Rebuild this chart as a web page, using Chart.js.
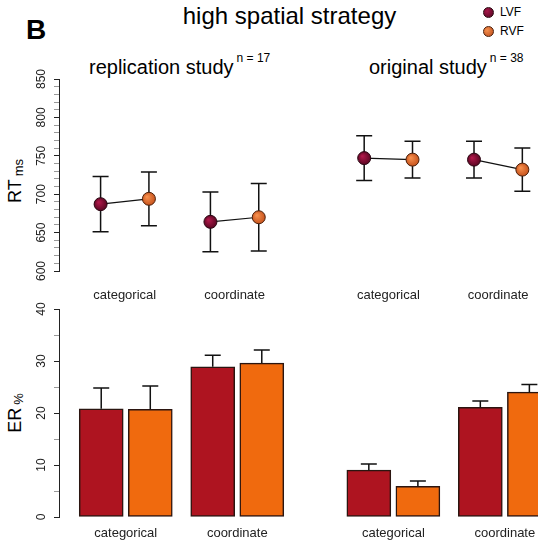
<!DOCTYPE html>
<html>
<head>
<meta charset="utf-8">
<script src="https://cdn.jsdelivr.net/npm/chart.js@4.4.1/dist/chart.umd.min.js"></script>
<style>
  html, body { margin: 0; padding: 0; background: #fff; overflow: hidden; width: 538px; height: 542px; }
  body { position: relative; font-family: "Liberation Sans", Arial, sans-serif; color: #000; }
  canvas { position: absolute; left: 0; }
  #rtChart { top: 0; }
  #erChart { top: 300px; }
  .txt { position: absolute; white-space: nowrap; line-height: 1; }
  .sup { font-size: 12px; position: relative; top: -12px; margin-left: 3px; }
  .ytitle { position: absolute; width: 120px; height: 20px; line-height: 20px; font-size: 18px; text-align: center; white-space: nowrap; transform: translate(-50%, -50%) rotate(-90deg); }
  .ytitle span { font-size: 13px; position: relative; top: 2px; margin-left: 3px; }
  .dot { position: absolute; width: 11px; height: 11px; border-radius: 50%; box-sizing: border-box; border: 1px solid #2a0a10; }
</style>
</head>
<body>
<div class="txt" style="left:26px; top:16px; font-size:28px; font-weight:bold;">B</div>
<div class="txt" style="left:289.5px; top:4px; font-size:24px; transform:translateX(-50%);">high spatial strategy</div>
<div class="txt" style="left:89px; top:57px; font-size:20px;">replication study<span class="sup">n = 17</span></div>
<div class="txt" style="left:369px; top:57px; font-size:20px;">original study<span class="sup">n = 38</span></div>

<div class="dot" style="left:482.5px; top:6.5px; background:radial-gradient(circle at 35% 35%, #a8184a, #4f0520);"></div>
<div class="txt" style="left:500px; top:6px; font-size:12px;">LVF</div>
<div class="dot" style="left:482.5px; top:25.5px; background:radial-gradient(circle at 35% 35%, #f5904e, #b9491a); border-color:#4a1e08;"></div>
<div class="txt" style="left:500px; top:25px; font-size:12px;">RVF</div>

<div class="ytitle" style="left:14.7px; top:180.5px;">RT<span>ms</span></div>
<div class="ytitle" style="left:14.7px; top:412.5px;">ER<span>%</span></div>

<canvas id="rtChart" width="560" height="310"></canvas>
<canvas id="erChart" width="560" height="242"></canvas>

<script>
const categories = ["categorical", "coordinate"];

// reaction times in ms, [categorical, coordinate]
const rtReplicationLVF = [687, 664];
const rtReplicationRVF = [694, 670];
const rtOriginalLVF = [747, 745];
const rtOriginalRVF = [745, 732];
const rtReplicationLVFErr = [36, 39];
const rtReplicationRVFErr = [35, 44];
const rtOriginalLVFErr = [29, 24];
const rtOriginalRVFErr = [24, 28];

// error rates in %
const erReplicationLVF = [20.8, 28.9];
const erReplicationRVF = [20.7, 29.6];
const erOriginalLVF = [9.0, 21.1];
const erOriginalRVF = [5.9, 24.0];
const erReplicationLVFErr = [4.0, 2.2];
const erReplicationRVFErr = [4.5, 2.5];
const erOriginalLVFErr = [1.2, 1.2];
const erOriginalRVFErr = [1.0, 1.5];

const rtTicks = [600, 650, 700, 750, 800, 850];
const erTicks = [0, 10, 20, 30, 40];

const rtMeans = [[rtReplicationLVF, rtReplicationRVF], [rtOriginalLVF, rtOriginalRVF]];
const rtErrs = [[rtReplicationLVFErr, rtReplicationRVFErr], [rtOriginalLVFErr, rtOriginalRVFErr]];
const erMeans = [[erReplicationLVF, erReplicationRVF], [erOriginalLVF, erOriginalRVF]];
const erErrs = [[erReplicationLVFErr, erReplicationRVFErr], [erOriginalLVFErr, erOriginalRVFErr]];

Chart.defaults.font.family = '"Liberation Sans", Arial, sans-serif';
Chart.defaults.color = "#222";

const studyGap = 2.4;    // second study panel sits this far right (category units)
const fieldShift = 0.22; // LVF left / RVF right of the category centre
const xMin = -0.5987, xMax = 3.8946;

function xPos(study, cat, field) {
    return study * studyGap + cat + (field === 0 ? -fieldShift : fieldShift);
}

const catCenters = [];
for (let s = 0; s < 2; s++) for (let c = 0; c < 2; c++) catCenters.push(s * studyGap + c);

function errItems(means, errs) {
    const out = [];
    for (let s = 0; s < 2; s++)
        for (let f = 0; f < 2; f++)
            for (let c = 0; c < 2; c++)
                out.push({ x: xPos(s, c, f), y: means[s][f][c], e: errs[s][f][c] });
    return out;
}

function errorBarPlugin(items, both) {
    const draw = function (chart) {
        const ctx = chart.ctx, x = chart.scales.x, y = chart.scales.y;
        ctx.save();
        ctx.strokeStyle = "#111";
        ctx.lineWidth = 1.5;
        items.forEach(function (it) {
            const px = x.getPixelForValue(it.x);
            const top = y.getPixelForValue(it.y + it.e);
            const bot = y.getPixelForValue(both ? it.y - it.e : it.y);
            ctx.beginPath();
            ctx.moveTo(px, top); ctx.lineTo(px, bot);
            ctx.moveTo(px - 8, top); ctx.lineTo(px + 8, top);
            if (both) { ctx.moveTo(px - 8, bot); ctx.lineTo(px + 8, bot); }
            ctx.stroke();
        });
        ctx.restore();
    };
    return both ? { id: "errorBars", beforeDatasetsDraw: draw } : { id: "errorBars", afterDatasetsDraw: draw };
}

// R style labels, turned to read upwards
function yLabelPlugin(labels) {
    return {
        id: "yLabels",
        afterDraw: function (chart) {
            const ctx = chart.ctx, y = chart.scales.y;
            ctx.save();
            ctx.font = '12px "Liberation Sans", Arial, sans-serif';
            ctx.fillStyle = "#222";
            ctx.textAlign = "center";
            ctx.textBaseline = "alphabetic";
            labels.forEach(function (v) {
                ctx.save();
                ctx.translate(45, y.getPixelForValue(v));
                ctx.rotate(-Math.PI / 2);
                ctx.fillText(String(v), 0, 0);
                ctx.restore();
            });
            ctx.restore();
        },
    };
}

function xAxis(height, pad) {
    return {
        type: "linear",
        min: xMin,
        max: xMax,
        offset: false,
        grid: { display: false, drawTicks: false, offset: false },
        border: { display: false },
        afterBuildTicks: function (scale) {
            scale.ticks = catCenters.map(function (v) { return { value: v }; });
        },
        afterFit: function (scale) { scale.height = height; },
        ticks: {
            autoSkip: false,
            maxRotation: 0,
            padding: pad,
            font: { size: 13 },
            color: "#222",
            callback: function (value, index) { return categories[index % 2]; },
        },
    };
}

function yAxis(min, max, step, major) {
    return {
        type: "linear",
        min: min,
        max: max,
        afterFit: function (scale) { scale.width = 59; },
        ticks: { stepSize: step, display: false },
        grid: {
            drawOnChartArea: false,
            drawTicks: true,
            tickLength: 5,
            tickWidth: 1,
            tickColor: function (c) {
                return c.tick && c.tick.value % major === 0 ? "#222" : "#999";
            },
        },
        border: { display: true, color: "#222", width: 1 },
    };
}

const ballColors = [["#b0184a", "#560520"], ["#f7904e", "#c4501a"]];
function ballFill(ctx) {
    const chart = ctx.chart, p = ctx.raw;
    const pair = ballColors[ctx.dataIndex];
    if (!p || !chart.chartArea) return pair[1];
    const x = chart.scales.x.getPixelForValue(p.x);
    const y = chart.scales.y.getPixelForValue(p.y);
    const g = chart.ctx.createRadialGradient(x - 2, y - 2, 0.5, x, y, 7);
    g.addColorStop(0, pair[0]);
    g.addColorStop(1, pair[1]);
    return g;
}

// top: reaction times
const rtDatasets = [];
for (let s = 0; s < 2; s++) {
    for (let c = 0; c < 2; c++) {
        rtDatasets.push({
            data: [
                { x: xPos(s, c, 0), y: rtMeans[s][0][c] },
                { x: xPos(s, c, 1), y: rtMeans[s][1][c] },
            ],
            borderColor: "#111",
            borderWidth: 1.2,
            pointRadius: 6.5,
            pointBorderWidth: 1,
            pointBackgroundColor: ballFill,
            pointBorderColor: ["#2a0612", "#4a1e08"],
        });
    }
}

new Chart(document.getElementById("rtChart"), {
    type: "line",
    data: { datasets: rtDatasets },
    options: {
        responsive: false,
        animation: false,
        devicePixelRatio: 1,
        layout: { padding: { top: 79, left: 0, right: 0, bottom: 0 } },
        scales: { x: xAxis(39, 17), y: yAxis(600, 850, 10, 50) },
        plugins: { legend: { display: false }, tooltip: { enabled: false } },
    },
    plugins: [errorBarPlugin(errItems(rtMeans, rtErrs), true), yLabelPlugin(rtTicks)],
});

// bottom: error rates
function barData(field) {
    const out = [];
    for (let s = 0; s < 2; s++)
        for (let c = 0; c < 2; c++)
            out.push({ x: xPos(s, c, field), y: erMeans[s][field][c] });
    return out;
}

new Chart(document.getElementById("erChart"), {
    type: "bar",
    data: {
        datasets: [
            { label: "LVF", data: barData(0), backgroundColor: "#ae1420" },
            { label: "RVF", data: barData(1), backgroundColor: "#f06a0e" },
        ],
    },
    options: {
        responsive: false,
        animation: false,
        devicePixelRatio: 1,
        layout: { padding: { top: 9, left: 0, right: 0, bottom: 0 } },
        datasets: {
            bar: {
                grouped: false,
                barThickness: 44,
                borderWidth: 1.5,
                borderColor: "#2b1510",
                borderSkipped: false,
            },
        },
        scales: { x: xAxis(25, 8.5), y: yAxis(0, 40, 5, 10) },
        plugins: { legend: { display: false }, tooltip: { enabled: false } },
    },
    plugins: [errorBarPlugin(errItems(erMeans, erErrs), false), yLabelPlugin(erTicks)],
});
</script>
</body>
</html>
